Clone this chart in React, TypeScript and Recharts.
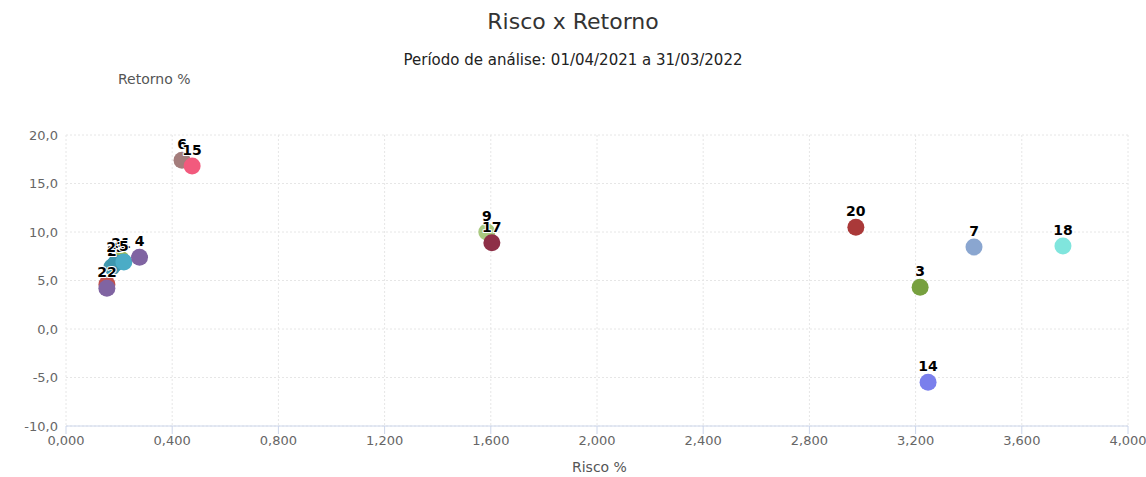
import { ScatterChart, Scatter, XAxis, YAxis, CartesianGrid, LabelList } from 'recharts'

// fundos: rótulo, risco %, retorno %, cor
const labels = ['1', '22', '21', '2', '23', '5', '4', '6', '15', '9', '17', '20', '3', '14', '7', '18']
const risco = [0.154, 0.154, 0.207, 0.173, 0.188, 0.218, 0.277, 0.437, 0.475, 1.585, 1.604, 2.975, 3.217, 3.247, 3.42, 3.755]
const retorno = [4.6, 4.2, 7.2, 6.4, 6.8, 6.9, 7.4, 17.4, 16.8, 10.0, 8.9, 10.5, 4.3, -5.5, 8.45, 8.56]
const colors = ['#c0504d', '#8064a2', '#9bbb59', '#4198af', '#3d96ae', '#4bacc6', '#8064a2', '#a47d7c', '#f25a7d', '#a9c97f', '#8e2f47', '#aa3939', '#77a03f', '#7a7fec', '#8aa6d0', '#80e5dd']
const showLabel = [false, true, true, true, true, true, true, true, true, true, true, true, true, true, true, true]

const xTicks = [0, 0.4, 0.8, 1.2, 1.6, 2.0, 2.4, 2.8, 3.2, 3.6, 4.0]
const yTicks = [-10, -5, 0, 5, 10, 15, 20]

const data = labels.map((name, i) => ({ name, x: risco[i], y: retorno[i], show: showLabel[i], color: colors[i] }))

const font = '"DejaVu Sans", Verdana, sans-serif'
const fmtX = (v: number) => v.toFixed(3).replace('.', ',')
const fmtY = (v: number) => v.toFixed(1).replace('.', ',')

function Dot(props: any) {
  const { cx, cy, payload } = props
  return <circle cx={cx} cy={cy} r={8.5} fill={payload.color} />
}

function PointLabel(props: any) {
  const { x, y, width, value, index } = props
  if (!data[index]?.show) return null
  const cx = x + width / 2
  const cy = y + width / 2
  return (
    <text x={cx} y={cy - 11} textAnchor="middle" fontFamily={font} fontSize={14} fontWeight="bold"
      fill="#000" stroke="#fff" strokeWidth={2} paintOrder="stroke" strokeLinejoin="round">
      {value}
    </text>
  )
}

export default function App() {
  return (
    <div style={{ position: 'absolute', left: 0, top: 0, width: 1146, height: 477, background: '#fff', fontFamily: font }}>
      <div style={{ position: 'absolute', top: 9, width: 1146, textAlign: 'center', fontSize: 22, color: '#333' }}>Risco x Retorno</div>
      <div style={{ position: 'absolute', top: 51, width: 1146, textAlign: 'center', fontSize: 15, color: '#222' }}>Período de análise: 01/04/2021 a 31/03/2022</div>
      <div style={{ position: 'absolute', top: 71, left: 118, fontSize: 14, color: '#555' }}>Retorno %</div>
      <div style={{ position: 'absolute', top: 459, left: 572, fontSize: 14, color: '#555' }}>Risco %</div>
      <ScatterChart width={1146} height={477} margin={{ top: 135, right: 18, bottom: 21, left: 6 }} style={{ position: 'absolute', left: 0, top: 0 }}>
        <CartesianGrid stroke="#e6e6e6" strokeDasharray="2 2" />
        <XAxis type="number" dataKey="x" domain={[0, 4]} ticks={xTicks} tickFormatter={fmtX}
          stroke="#ccd6eb" tickLine={{ stroke: '#ccd6eb' }} tickSize={8}
          tick={{ fill: '#666', fontSize: 13, fontFamily: font }} interval={0} />
        <YAxis type="number" dataKey="y" domain={[-10, 20]} ticks={yTicks} tickFormatter={fmtY} width={60}
          axisLine={false} tickLine={false} tick={{ fill: '#666', fontSize: 13, fontFamily: font }} />
        <Scatter data={data} isAnimationActive={false} shape={Dot}>
          <LabelList dataKey="name" content={PointLabel} />
        </Scatter>
      </ScatterChart>
    </div>
  )
}
